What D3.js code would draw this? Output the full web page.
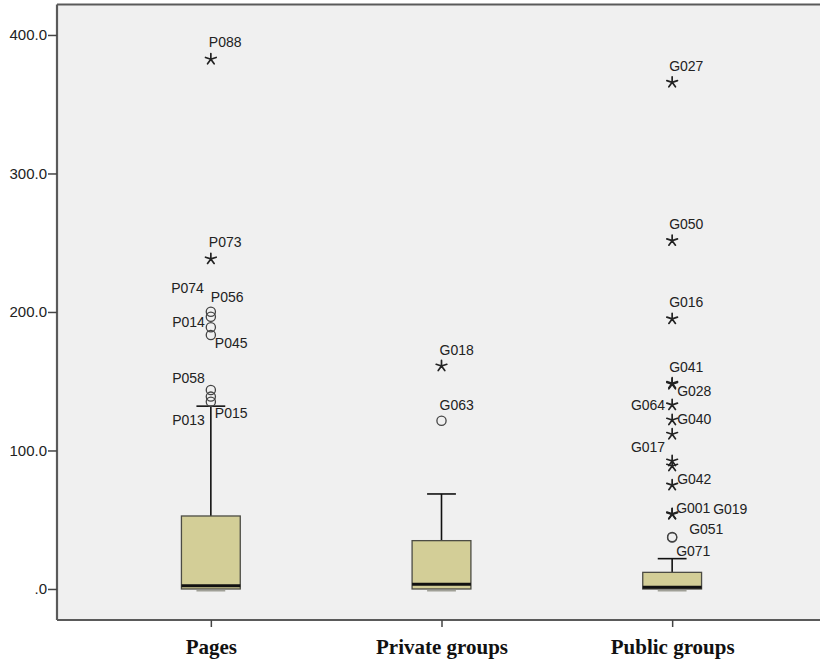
<!DOCTYPE html>
<html>
<head>
<meta charset="utf-8">
<script src="https://cdn.jsdelivr.net/npm/d3@7"></script>
<style>
  html, body { margin: 0; padding: 0; background: #ffffff; }
  svg { display: block; }
</style>
</head>
<body>
<script>
// Box plot summary per channel type
const categories = ["Pages", "Private groups", "Public groups"];
const whiskerLow = [0, 0, 0];
const q1 = [0, 0, 0];
const medians = [2.4, 3.4, 1.2];
const q3 = [52.7, 34.9, 12.0];
const whiskerHigh = [132, 68.6, 21.9];

// Outliers: [label, value, kind]  kind: "o" = outlier, "*" = extreme
const pagesOutliers = [
  ["P088", 382.5, "*"], ["P073", 238.3, "*"],
  ["P074", 200.2, "o"], ["P056", 196.6, "o"], ["P014", 189.0, "o"], ["P045", 183.4, "o"],
  ["P058", 143.7, "o"], ["P015", 138.9, "o"], ["P013", 135.2, "o"]
];
const privateOutliers = [
  ["G018", 161.0, "*"], ["G063", 121.5, "o"]
];
const publicOutliers = [
  ["G027", 365.8, "*"], ["G050", 251.5, "*"], ["G016", 195.0, "*"],
  ["G041", 148.5, "*"], ["G028", 147.8, "*"], ["G064", 132.9, "*"], ["G040", 122.0, "*"],
  ["G017", 111.7, "*"], [null, 92.4, "*"], [null, 88.8, "*"], ["G042", 75.0, "*"],
  ["G001", 54.2, "*"], ["G019", 53.9, "*"], ["G051", 37.5, "o"], ["G071", 37.2, "o"]
];
const outliers = [pagesOutliers, privateOutliers, publicOutliers];

const yTicks = [0, 100, 200, 300, 400];

// Placement of each case label relative to its mark: [dx, dy, anchor]
const labelPlacement = {
  P088: [-2, -12.5, "start"], P073: [-2, -11.7, "start"],
  P074: [-7, -19, "end"], P056: [0, -14.4, "start"], P014: [-6, 0, "end"],
  P045: [4, 12.7, "start"], P058: [-6, -7, "end"], P015: [4, 21.6, "start"],
  P013: [-6, 23.3, "end"],
  G018: [-2, -11, "start"], G063: [-2, -10.7, "start"],
  G027: [-3, -11.6, "start"], G050: [-3, -11.7, "start"], G016: [-3, -12, "start"],
  G041: [-3, -11, "start"], G028: [5, 12.2, "start"], G064: [-7, 5, "end"],
  G040: [5, 4.3, "start"], G017: [-7, 17.4, "end"], G042: [5, -1, "start"],
  G001: [4, -1, "start"], G019: [41, -0.6, "start"], G051: [17, -3, "start"],
  G071: [4, 18.8, "start"]
};

const W = 820, H = 661;
const plot = { left: 57, top: 4.5, right: 826, bottom: 620 };

const svg = d3.select("body").append("svg")
  .attr("width", W).attr("height", H);

const x = d3.scalePoint()
  .domain(categories)
  .range([plot.left, plot.right])
  .padding(0.667);

const y = d3.scaleLinear()
  .domain([-22.4, 422])
  .range([plot.bottom, plot.top]);

const boxW = x.step() * 0.255;
const capW = boxW * 0.49;

// plot background
svg.append("rect")
  .attr("x", plot.left).attr("y", plot.top)
  .attr("width", plot.right - plot.left).attr("height", plot.bottom - plot.top)
  .attr("fill", "#f0f0f0");

// frame (left, top, bottom)
const frame = svg.append("g").attr("stroke", "#5a5a5a").attr("stroke-width", 2.2).attr("fill", "none");
frame.append("line").attr("x1", plot.left).attr("x2", plot.right).attr("y1", plot.top).attr("y2", plot.top);
frame.append("line").attr("x1", plot.left).attr("x2", plot.right).attr("y1", plot.bottom).attr("y2", plot.bottom);
frame.append("line").attr("x1", plot.left).attr("x2", plot.left).attr("y1", plot.top).attr("y2", plot.bottom);

// y axis
const yAxis = d3.axisLeft(y)
  .tickValues(yTicks)
  .tickSize(9)
  .tickPadding(1)
  .tickFormat(d => d === 0 ? ".0" : d3.format(".1f")(d));
const yg = svg.append("g")
  .attr("transform", `translate(${plot.left},0)`)
  .call(yAxis);
yg.select(".domain").remove();
yg.selectAll(".tick line").attr("stroke", "#444").attr("stroke-width", 1.5);
yg.selectAll(".tick text")
  .attr("font-family", "Liberation Sans, Arial, sans-serif")
  .attr("font-size", 15).attr("fill", "#222");

// x axis
const xAxis = d3.axisBottom(x).tickSize(7).tickPadding(9);
const xg = svg.append("g")
  .attr("transform", `translate(0,${plot.bottom})`)
  .call(xAxis);
xg.select(".domain").remove();
xg.selectAll(".tick line").attr("stroke", "#444").attr("stroke-width", 1.5);
xg.selectAll(".tick text")
  .attr("font-family", "Liberation Serif, Times New Roman, serif")
  .attr("font-weight", "bold")
  .attr("font-size", 21)
  .attr("fill", "#111")
  .attr("dy", "0.85em");

// boxes
const stats = categories.map((c, i) => ({
  c, lo: whiskerLow[i], q1: q1[i], med: medians[i], q3: q3[i], hi: whiskerHigh[i]
}));

const bg = svg.append("g");
stats.forEach(s => {
  const cx = x(s.c);
  const g = bg.append("g");
  // upper whisker
  g.append("line")
    .attr("x1", cx).attr("x2", cx)
    .attr("y1", y(s.q3)).attr("y2", y(s.hi))
    .attr("stroke", "#111").attr("stroke-width", 1.6);
  g.append("line")
    .attr("x1", cx - capW / 2).attr("x2", cx + capW / 2)
    .attr("y1", y(s.hi)).attr("y2", y(s.hi))
    .attr("stroke", "#111").attr("stroke-width", 1.6);
  // lower whisker cap
  g.append("line")
    .attr("x1", cx - capW / 2).attr("x2", cx + capW / 2)
    .attr("y1", y(s.lo) + 1.8).attr("y2", y(s.lo) + 1.8)
    .attr("stroke", "#9a9a90").attr("stroke-width", 1.4);
  // box
  g.append("rect")
    .attr("x", cx - boxW / 2).attr("width", boxW)
    .attr("y", y(s.q3)).attr("height", y(s.q1) - y(s.q3))
    .attr("fill", "#d3ce97")
    .attr("stroke", "#4c4c44").attr("stroke-width", 1.3);
  // median
  g.append("line")
    .attr("x1", cx - boxW / 2).attr("x2", cx + boxW / 2)
    .attr("y1", y(s.med)).attr("y2", y(s.med))
    .attr("stroke", "#111").attr("stroke-width", 3);
});

// asterisk marker for extreme values
function starPath(r) {
  const p = d3.path();
  for (let k = 0; k < 5; k++) {
    const a = -Math.PI / 2 + k * 2 * Math.PI / 5;
    p.moveTo(0, 0);
    p.lineTo(r * Math.cos(a), r * Math.sin(a));
  }
  return p.toString();
}

const og = svg.append("g");
categories.forEach((c, i) => {
  const cx = x(c);
  outliers[i].forEach(([id, v, kind]) => {
    const cy = y(v);
    if (kind === "o") {
      og.append("circle")
        .attr("cx", cx).attr("cy", cy).attr("r", 4.6)
        .attr("fill", "none").attr("stroke", "#444").attr("stroke-width", 1.3);
    } else {
      og.append("path")
        .attr("d", starPath(5.6))
        .attr("transform", `translate(${cx},${cy})`)
        .attr("fill", "none").attr("stroke", "#222").attr("stroke-width", 1.7)
        .attr("stroke-linecap", "round");
    }
    if (id && labelPlacement[id]) {
      const [dx, dy, anchor] = labelPlacement[id];
      og.append("text")
        .attr("x", cx + dx).attr("y", cy + dy)
        .attr("text-anchor", anchor)
        .attr("font-family", "Liberation Sans, Arial, sans-serif")
        .attr("font-size", 14)
        .attr("fill", "#222")
        .text(id);
    }
  });
});
</script>
</body>
</html>
